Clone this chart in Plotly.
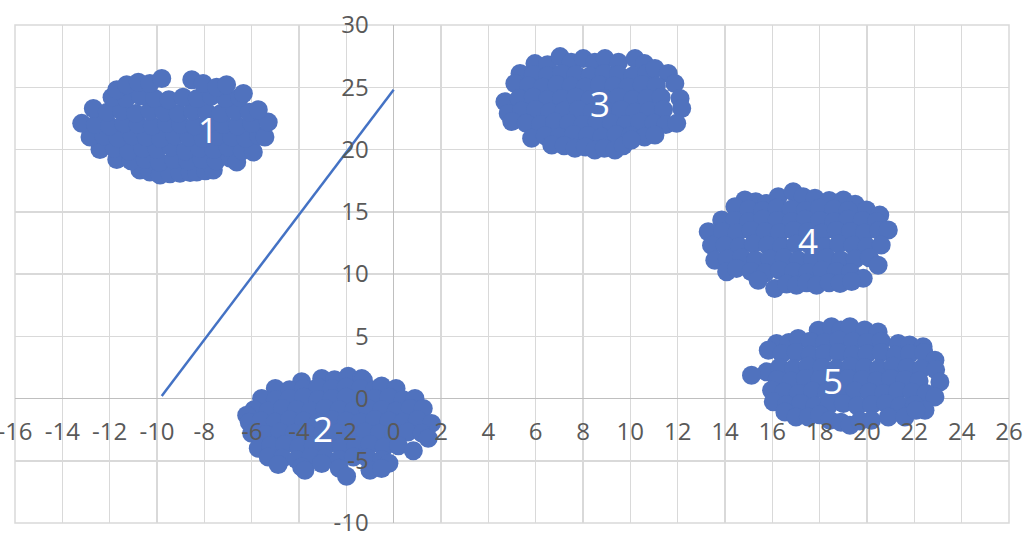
import plotly.graph_objects as go

# ---- data ----
cluster1 = [
    (-10.72, 18.35), (-10.3, 18.2), (-9.87, 17.95), (-9.45, 18.05), (-9.03, 18.1), (-8.6, 18.15), (-8.32, 18.2), (-7.95, 18.3), (-7.62, 18.35),
    (-11.7, 19.2), (-11.1, 19.1), (-10.5, 19.2), (-9.9, 19.0), (-9.3, 19.2), (-8.7, 19.1), (-8.1, 19.2), (-7.5, 19.1), (-6.9, 19.3), (-6.63, 19.0),
    (-12.41, 20.0), (-11.8, 20.1), (-11.2, 19.9), (-10.6, 20.1), (-10.0, 20.0), (-9.4, 20.2), (-8.8, 19.9), (-8.2, 20.1), (-7.6, 20.0), (-7.0, 20.2), (-6.4, 19.9), (-5.93, 19.8),
    (-12.83, 21.0), (-12.25, 21.1), (-11.65, 20.9), (-11.05, 21.1), (-10.45, 21.0), (-9.85, 20.9), (-9.25, 21.1), (-8.65, 21.0), (-8.05, 20.9), (-7.45, 21.1), (-6.85, 21.0), (-6.25, 20.9), (-5.7, 21.1), (-5.44, 21.0),
    (-13.18, 22.1), (-12.6, 22.0), (-12.0, 21.9), (-11.4, 22.1), (-10.8, 22.0), (-10.2, 21.9), (-9.6, 22.1), (-9.0, 22.0), (-8.4, 21.9), (-7.8, 22.1), (-7.2, 22.0), (-6.6, 21.9), (-6.0, 22.1), (-5.3, 22.2),
    (-12.69, 23.3), (-12.1, 23.0), (-11.5, 23.1), (-10.9, 22.9), (-10.3, 23.1), (-9.7, 23.0), (-9.1, 22.9), (-8.5, 23.1), (-7.9, 23.0), (-7.3, 22.9), (-6.7, 23.1), (-6.1, 23.0), (-5.72, 23.2),
    (-11.9, 24.2), (-11.3, 24.1), (-10.7, 24.3), (-10.1, 24.1), (-9.5, 24.0), (-8.9, 24.2), (-8.3, 24.1), (-7.7, 24.3), (-7.1, 24.1), (-6.5, 24.2), (-6.35, 24.5),
    (-11.7, 24.8), (-11.28, 25.2), (-10.79, 25.4), (-10.3, 25.3), (-9.8, 25.7), (-8.53, 25.6), (-8.05, 25.3), (-7.48, 25.0), (-7.06, 25.2),
]
cluster2 = [
    (-3.89, 1.34), (-3.04, 1.6), (-2.5, 1.5), (-1.92, 1.78), (-1.35, 1.6), (-1.28, 1.47),
    (-5.0, 0.8), (-4.4, 0.7), (-3.8, 0.8), (-3.2, 0.9), (-2.6, 0.8), (-2.0, 0.9), (-1.4, 0.8), (-0.8, 0.7), (-0.51, 1.0), (0.1, 0.8),
    (-5.58, 0.0), (-5.0, -0.1), (-4.4, 0.0), (-3.8, 0.1), (-3.2, -0.1), (-2.6, 0.0), (-2.0, 0.1), (-1.4, -0.1), (-0.8, 0.0), (-0.2, 0.1), (0.4, -0.1), (0.9, 0.0),
    (-5.9, -0.9), (-5.3, -1.0), (-4.7, -0.8), (-4.1, -0.9), (-3.5, -1.0), (-2.9, -0.8), (-2.3, -0.9), (-1.7, -1.0), (-1.1, -0.8), (-0.5, -0.9), (0.1, -1.0), (0.7, -0.8), (1.25, -0.8),
    (-6.21, -1.34), (-6.1, -1.9), (-5.6, -1.8), (-5.0, -1.9), (-4.4, -1.7), (-3.8, -1.8), (-3.2, -1.9), (-2.6, -1.7), (-2.0, -1.8), (-1.4, -1.9), (-0.8, -1.7), (-0.2, -1.8), (0.4, -1.9), (1.0, -1.7), (1.6, -2.0),
    (-6.0, -2.8), (-5.4, -2.9), (-4.8, -2.7), (-4.2, -2.8), (-3.6, -2.9), (-3.0, -2.7), (-2.4, -2.8), (-1.8, -2.9), (-1.2, -2.7), (-0.6, -2.8), (0.0, -2.9), (0.6, -2.7), (1.2, -2.8), (1.46, -3.2),
    (-5.72, -4.0), (-5.2, -3.8), (-4.6, -3.7), (-4.0, -3.9), (-3.4, -3.8), (-2.8, -3.7), (-2.2, -3.9), (-1.6, -3.8), (-1.0, -3.7), (-0.4, -3.9), (0.2, -3.8), (0.83, -4.2),
    (-5.3, -4.7), (-4.7, -4.8), (-4.1, -4.9), (-3.5, -4.7), (-2.9, -4.8), (-2.3, -4.9), (-1.7, -4.7), (-1.1, -4.8), (-0.5, -4.9), (-0.2, -5.2),
    (-4.88, -5.3), (-3.89, -5.5), (-3.75, -5.76), (-3.04, -5.22), (-2.3, -5.6), (-1.99, -6.25), (-1.0, -5.76), (-0.51, -5.63),
]
cluster3 = [
    (5.97, 26.9), (6.5, 26.8), (7.03, 27.46), (7.5, 27.0), (8.01, 27.3), (8.5, 27.0), (8.93, 27.3), (9.5, 27.0), (10.2, 27.3), (10.6, 26.9),
    (5.34, 26.1), (5.9, 26.0), (6.5, 25.9), (7.1, 26.1), (7.7, 26.0), (8.3, 25.9), (8.9, 26.1), (9.5, 26.0), (10.1, 25.9), (10.7, 26.1), (11.04, 26.5), (11.6, 26.1),
    (5.12, 25.3), (5.7, 25.1), (6.3, 25.0), (6.9, 25.2), (7.5, 25.1), (8.1, 25.0), (8.7, 25.2), (9.3, 25.1), (9.9, 25.0), (10.5, 25.2), (11.1, 25.1), (11.88, 25.3),
    (4.7, 23.84), (5.3, 24.1), (5.9, 24.2), (6.5, 24.0), (7.1, 24.1), (7.7, 24.2), (8.3, 24.0), (8.9, 24.1), (9.5, 24.2), (10.1, 24.0), (10.7, 24.1), (11.3, 24.2), (12.1, 24.1),
    (4.84, 22.9), (5.4, 23.1), (6.0, 23.2), (6.6, 23.0), (7.2, 23.1), (7.8, 23.2), (8.4, 23.0), (9.0, 23.1), (9.6, 23.2), (10.2, 23.0), (10.8, 23.1), (11.4, 23.2), (12.17, 23.3),
    (4.99, 22.24), (5.6, 22.1), (6.2, 22.0), (6.8, 22.2), (7.4, 22.1), (8.0, 22.0), (8.6, 22.2), (9.2, 22.1), (9.8, 22.0), (10.4, 22.2), (11.0, 22.1), (11.5, 22.0), (11.96, 22.1),
    (5.83, 20.9), (6.4, 21.1), (7.0, 21.0), (7.6, 21.2), (8.2, 21.1), (8.8, 21.0), (9.4, 21.2), (10.0, 21.1), (10.6, 21.0), (11.04, 21.17),
    (6.68, 20.36), (7.2, 20.3), (7.66, 20.1), (8.1, 20.2), (8.5, 19.96), (8.9, 20.1), (9.35, 19.96), (9.7, 20.3), (10.05, 20.76),
]
cluster4 = [
    (14.84, 15.94), (15.3, 15.8), (15.76, 15.67), (16.25, 16.2), (16.88, 16.6), (17.3, 16.2), (17.8, 16.08), (18.4, 15.9), (19.0, 15.94), (19.5, 15.6),
    (14.42, 15.4), (15.0, 15.2), (15.6, 15.1), (16.2, 15.3), (16.8, 15.2), (17.4, 15.1), (18.0, 15.3), (18.6, 15.2), (19.2, 15.1), (19.98, 15.14), (20.54, 14.73),
    (13.86, 14.33), (14.4, 14.3), (15.0, 14.2), (15.6, 14.4), (16.2, 14.3), (16.8, 14.2), (17.4, 14.4), (18.0, 14.3), (18.6, 14.2), (19.2, 14.4), (19.8, 14.3), (20.4, 14.2),
    (13.29, 13.4), (13.9, 13.4), (14.5, 13.3), (15.1, 13.5), (15.7, 13.4), (16.3, 13.3), (16.9, 13.5), (17.5, 13.4), (18.1, 13.3), (18.7, 13.5), (19.3, 13.4), (19.9, 13.3), (20.5, 13.5), (20.9, 13.53),
    (13.43, 12.3), (14.0, 12.3), (14.6, 12.2), (15.2, 12.4), (15.8, 12.3), (16.4, 12.2), (17.0, 12.4), (17.6, 12.3), (18.2, 12.2), (18.8, 12.4), (19.4, 12.3), (20.0, 12.2), (20.6, 12.32),
    (13.57, 11.1), (14.1, 11.2), (14.7, 11.3), (15.3, 11.1), (15.9, 11.2), (16.5, 11.3), (17.1, 11.1), (17.7, 11.2), (18.3, 11.3), (18.9, 11.1), (19.5, 11.2), (20.1, 11.3), (20.47, 10.7),
    (14.07, 10.18), (14.49, 10.45), (15.1, 10.2), (15.7, 10.1), (16.3, 10.3), (16.9, 10.2), (17.5, 10.1), (18.1, 10.3), (18.7, 10.2), (19.3, 10.1), (19.84, 9.65),
    (15.4, 9.5), (16.1, 8.84), (16.6, 9.2), (17.02, 9.1), (17.45, 9.3), (17.87, 9.1), (18.4, 9.3), (18.86, 9.24), (19.35, 9.4),
]
cluster5 = [
    (17.94, 5.49), (18.5, 5.76), (18.9, 5.5), (19.28, 5.76), (19.9, 5.5), (20.47, 5.35),
    (16.18, 4.42), (16.7, 4.5), (17.09, 4.82), (17.6, 4.6), (18.2, 4.5), (18.8, 4.7), (19.4, 4.6), (20.0, 4.5), (20.6, 4.6), (21.32, 4.42), (21.8, 4.3), (22.37, 4.15),
    (15.83, 3.88), (16.4, 3.6), (17.0, 3.7), (17.6, 3.5), (18.2, 3.6), (18.8, 3.7), (19.4, 3.5), (20.0, 3.6), (20.6, 3.7), (21.2, 3.5), (21.8, 3.6), (22.4, 3.7), (22.87, 3.08),
    (15.76, 2.14), (16.3, 2.5), (16.9, 2.4), (17.5, 2.6), (18.1, 2.5), (18.7, 2.4), (19.3, 2.6), (19.9, 2.5), (20.5, 2.4), (21.1, 2.6), (21.7, 2.5), (22.3, 2.4), (22.9, 2.3),
    (15.12, 1.87), (16.2, 1.5), (16.8, 1.4), (17.4, 1.6), (18.0, 1.5), (18.6, 1.4), (19.2, 1.6), (19.8, 1.5), (20.4, 1.4), (21.0, 1.6), (21.6, 1.5), (22.2, 1.4), (23.08, 1.33),
    (15.97, 0.67), (16.5, 0.5), (17.1, 0.4), (17.7, 0.6), (18.3, 0.5), (18.9, 0.4), (19.5, 0.6), (20.1, 0.5), (20.7, 0.4), (21.3, 0.6), (21.9, 0.5), (22.5, 0.4), (22.87, 0.13),
    (16.04, -0.27), (16.6, -0.5), (17.2, -0.4), (17.8, -0.6), (18.4, -0.5), (19.0, -0.4), (19.6, -0.6), (20.2, -0.5), (20.8, -0.4), (21.4, -0.6), (22.0, -0.5), (22.45, -0.94),
    (16.53, -1.08), (17.0, -1.48), (17.52, -1.48), (18.0, -1.3), (18.43, -1.74), (18.9, -1.9), (19.28, -2.15), (19.7, -1.8), (20.19, -1.74), (20.9, -1.48), (21.6, -1.48), (22.07, -0.94),
]
line_x = [-9.8, 0.0]
line_y = [0.2, 24.8]
label_x = [-7.86, -3.0, 8.72, 17.52, 18.57]
label_y = [21.6, -2.4, 23.7, 12.72, 1.47]
label_text = ["1", "2", "3", "4", "5"]

x_range = [-16, 26]
y_range = [-10, 30]
x_tick_vals = [-16, -14, -12, -10, -8, -6, -4, -2, 0, 2, 4, 6, 8, 10, 12, 14, 16, 18, 20, 22, 24, 26]
x_tick_text = ["-16", "-14", "-12", "-10", "-8", "-6", "-4", "-2", "0", "2", "4", "6", "8",
               "10", "12", "14", "16", "18", "20", "22", "24", "26"]
y_tick_vals = [-10, -5, 0, 5, 10, 15, 20, 25, 30]
y_tick_text = ["-10", "-5", "0", "5", "10", "15", "20", "25", "30"]

# ---- styling ----
BLUE = "rgb(80,114,190)"
GRID = "#d9d9d9"
AXIS = "#bfbfbf"
TICK = dict(family="Open Sans", size=24, color="#595959")

fig = go.Figure()
for pts in (cluster1, cluster2, cluster3, cluster4, cluster5):
    xs, ys = zip(*pts)
    fig.add_trace(go.Scatter(x=list(xs), y=list(ys), mode="markers",
                             marker=dict(size=19, color=BLUE, line=dict(width=0)),
                             showlegend=False, hoverinfo="skip"))
fig.add_trace(go.Scatter(x=line_x, y=line_y, mode="lines",
                         line=dict(color="#4472C4", width=2.5),
                         showlegend=False, hoverinfo="skip"))

for lx, ly, lt in zip(label_x, label_y, label_text):
    fig.add_annotation(x=lx, y=ly, text=lt, showarrow=False,
                       font=dict(family="Open Sans", size=35, color="white"))

x_pos = (0 - x_range[0]) / (x_range[1] - x_range[0])
y_pos = (0 - y_range[0]) / (y_range[1] - y_range[0])

fig.update_layout(
    width=1036, height=548,
    margin=dict(l=15, r=27, t=25, b=25),
    paper_bgcolor="white", plot_bgcolor="white",
    xaxis=dict(range=x_range, tickmode="array", tickvals=x_tick_vals, ticktext=x_tick_text,
               showgrid=True, gridcolor=GRID, gridwidth=1.5,
               zeroline=True, zerolinecolor=AXIS, zerolinewidth=1.5, showline=False,
               anchor="free", position=y_pos, ticks="", tickfont=TICK,
               ticklabelstandoff=16, ticklabeloverflow="allow",
               automargin=False, fixedrange=True),
    yaxis=dict(range=y_range, tickmode="array", tickvals=y_tick_vals, ticktext=y_tick_text,
               showgrid=True, gridcolor=GRID, gridwidth=1.5,
               zeroline=True, zerolinecolor=AXIS, zerolinewidth=1.5, showline=False,
               anchor="free", position=x_pos, ticks="", tickfont=TICK,
               ticklabelstandoff=25, ticklabeloverflow="allow",
               automargin=False, fixedrange=True),
    shapes=[dict(type="rect", xref="paper", yref="paper", x0=0, y0=0, x1=1, y1=1,
                 line=dict(color=GRID, width=1.5), layer="below")],
)

fig.write_html("out.html",
               config={"displayModeBar": False, "staticPlot": True},
               post_script="document.body.style.margin='0px';document.body.style.overflow='hidden';")
